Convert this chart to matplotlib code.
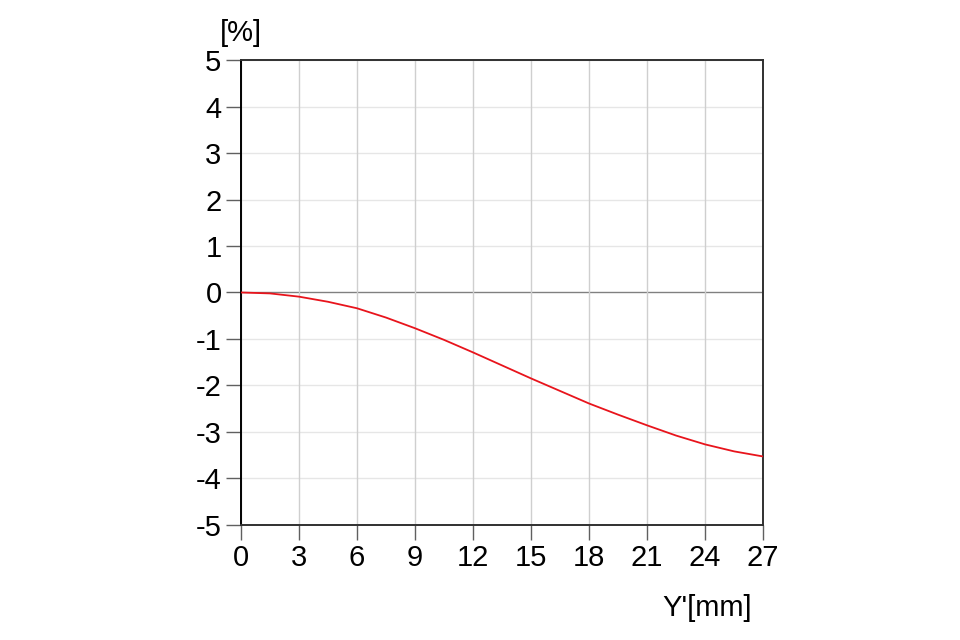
import numpy as np
from matplotlib import pyplot as plt

plt.rcParams['font.family'] = ['Liberation Sans Narrow', 'Liberation Sans', 'DejaVu Sans']
plt.rcParams['axes.unicode_minus'] = False

# distortion curve
y_mm = [0, 1.5, 3, 4.5, 6, 7.5, 9, 10.5, 12, 13.5, 15, 16.5, 18, 19.5, 21, 22.5, 24, 25.5, 27]
dist = [0, -0.02, -0.09, -0.2, -0.34, -0.54, -0.77, -1.02, -1.29, -1.57, -1.85, -2.12,
        -2.39, -2.63, -2.86, -3.08, -3.27, -3.42, -3.53]

xticks = np.arange(0, 28, 3)
yticks = np.arange(-5, 6, 1)

fig = plt.figure(figsize=(9.6, 6.4), dpi=100)
ax = fig.add_axes([0.251, 0.180, 0.544, 0.726])

for t in yticks:
    if t == 0:
        ax.axhline(t, color='#808080', lw=1.0, zorder=1)
    else:
        ax.axhline(t, color='#e6e6e6', lw=1.0, zorder=1)
for t in xticks:
    ax.axvline(t, color='#cfcfcf', lw=1.0, zorder=1)

ax.plot(y_mm, dist, color='#e8141c', lw=1.3, zorder=3)

ax.set_xlim(0, 27)
ax.set_ylim(-5, 5)
ax.set_xticks(xticks)
ax.set_yticks(yticks)
ax.tick_params(axis='both', labelsize=21, length=11, width=1.0, color='#606060', pad=3)
for s in ['left', 'right', 'top', 'bottom']:
    ax.spines[s].set_linewidth(1.4)
    ax.spines[s].set_color('#303030')
ax.spines['left'].set_color('black')

fig.text(0.251, 0.948, '[%]', fontsize=21, ha='center', va='center')
fig.text(0.783, 0.050, "Y'[mm]", fontsize=21, ha='right', va='center')

plt.savefig('out.png', dpi=100)
